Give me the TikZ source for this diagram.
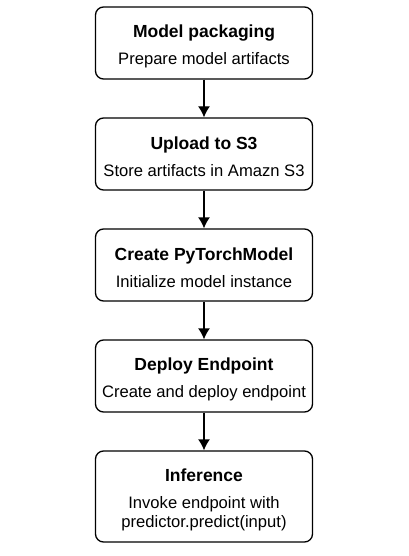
\documentclass[tikz,border=0pt]{standalone}
\usepackage{fontspec}
\setmainfont{Liberation Sans}
\usetikzlibrary{positioning,arrows.meta}

\newcommand{\stagetitle}[1]{\rule{0pt}{19pt}{\fontsize{17.5}{19}\selectfont\bfseries #1}}

\begin{document}
\begin{tikzpicture}[node distance=37.7pt,
    stage/.style={draw,line width=1.3pt,rounded corners=8pt,align=center,
      minimum width=217pt,minimum height=72pt,inner sep=2pt,
      font=\fontsize{16.6}{19}\selectfont}]
      \useasboundingbox (0,0) rectangle (408pt,-556pt);
      \node[stage]                      (pack)   at (204pt,-43pt) {\stagetitle{Model packaging}\\[8pt]Prepare model artifacts};
      \node[stage]                      (upload) [below=of pack]   {\stagetitle{Upload to S3}\\[8pt]Store artifacts in Amazn S3};
      \node[stage]                      (create) [below=of upload] {\stagetitle{Create PyTorchModel}\\[8pt]Initialize model instance};
      \node[stage]                      (deploy) [below=of create] {\stagetitle{Deploy Endpoint}\\[8pt]Create and deploy endpoint};
      \node[stage,minimum height=91pt]  (infer)  [below=of deploy] {\stagetitle{Inference}\\[8pt]Invoke endpoint with\\predictor.predict(input)};

      \path[-{Latex[length=11pt,width=12pt]},line width=1.3pt]
                (pack)   edge (upload)
                (upload) edge (create)
                (create) edge (deploy)
                (deploy) edge (infer);
    \end{tikzpicture}
\end{document}
